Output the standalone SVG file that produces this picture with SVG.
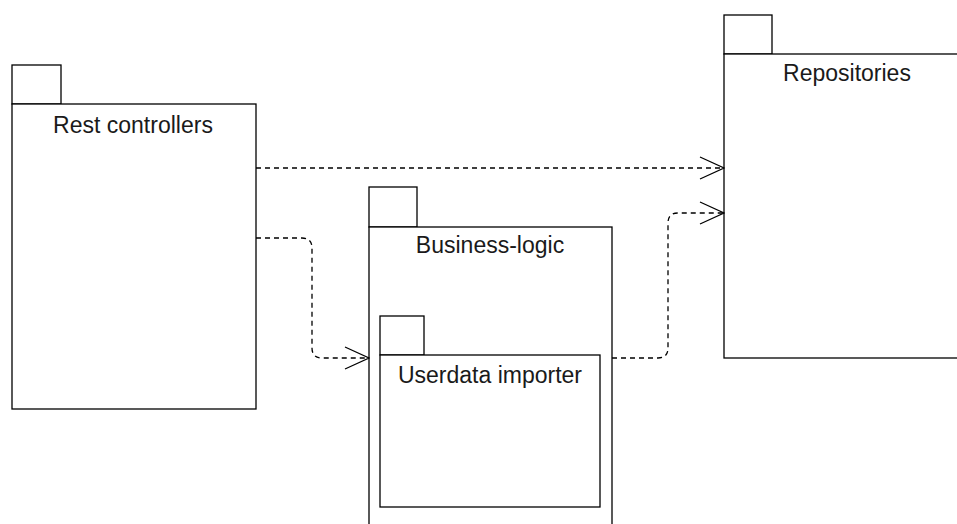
<svg xmlns="http://www.w3.org/2000/svg" width="957" height="524" viewBox="0 0 957 524">
  <defs>
    <style>
      .pkg { fill: #ffffff; stroke: #000000; stroke-width: 1.3; }
      .lbl { font-family: "Liberation Sans", Arial, sans-serif; font-size: 23px; fill: #1a1a1a; text-anchor: middle; }
      .dep { fill: none; stroke: #000000; stroke-width: 1.3; stroke-dasharray: 5 4; }
      .head { fill: none; stroke: #000000; stroke-width: 1.3; }
    </style>
    <marker id="open-arrow" viewBox="0 0 26 24" refX="25" refY="12" markerWidth="26" markerHeight="24" markerUnits="userSpaceOnUse" orient="auto">
      <path class="head" d="M1,1 L25,12 L1,23"/>
    </marker>
  </defs>
  <rect width="957" height="524" fill="#ffffff"/>

  <g id="rest-controllers">
    <rect class="pkg" x="12" y="65" width="49" height="39"/>
    <rect class="pkg" x="12" y="104" width="244" height="305"/>
    <text class="lbl" x="133" y="133">Rest controllers</text>
  </g>

  <g id="repositories">
    <rect class="pkg" x="724" y="15" width="48" height="39"/>
    <rect class="pkg" x="724" y="54" width="240" height="304"/>
    <text class="lbl" x="847" y="81">Repositories</text>
  </g>

  <g id="business-logic">
    <rect class="pkg" x="369" y="187" width="48" height="40"/>
    <rect class="pkg" x="369" y="227" width="243" height="310"/>
    <text class="lbl" x="490" y="253">Business-logic</text>
  </g>

  <g id="userdata-importer">
    <rect class="pkg" x="380" y="316" width="44" height="39"/>
    <rect class="pkg" x="380" y="355" width="220" height="152"/>
    <text class="lbl" x="490" y="383">Userdata importer</text>
  </g>

  <g id="connectors">
    <path class="dep" d="M256,168 L724,168" marker-end="url(#open-arrow)"/>
    <path class="dep" d="M256,238 L302,238 Q312,238 312,248 L312,348 Q312,358 322,358 L369,358" marker-end="url(#open-arrow)"/>
    <path class="dep" d="M612,358 L658,358 Q668,358 668,348 L668,223 Q668,213 678,213 L724,213" marker-end="url(#open-arrow)"/>
  </g>
</svg>
